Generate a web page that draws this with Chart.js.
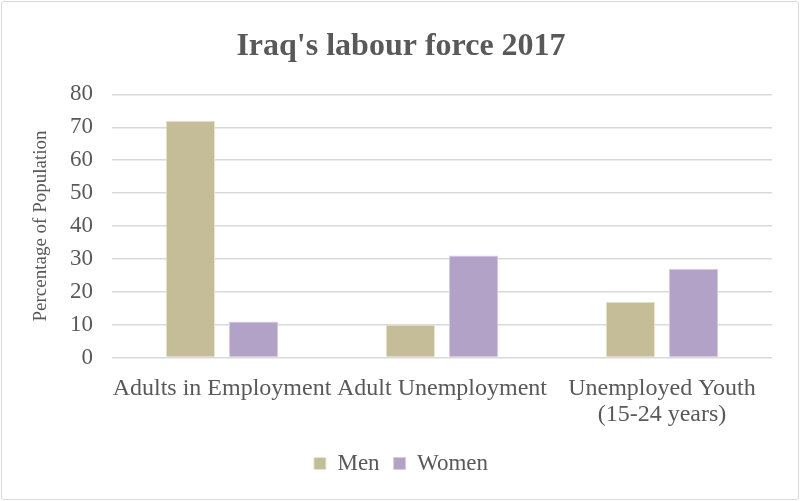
<!DOCTYPE html>
<html>
<head>
<meta charset="utf-8">
<script src="https://cdn.jsdelivr.net/npm/chart.js@4"></script>
<style>
  html, body { margin: 0; padding: 0; background: #fff; }
  #wrap { position: absolute; left: 1px; top: 1px; width: 796px; height: 497px; border: 1px solid #d9d9d9; border-radius: 3px; }
  canvas { display: block; }
</style>
</head>
<body>
<div id="wrap"><canvas id="js--labour_chart" width="796" height="497"></canvas></div>
<script>
var categories = ['Adults in Employment', 'Adult Unemployment', ['Unemployed Youth', '(15-24 years)']];
var men = [72, 10, 17];
var women = [11, 31, 27];
var yTicks = [0, 10, 20, 30, 40, 50, 60, 70, 80];

var cntxt = document.getElementById('js--labour_chart');
var serif = "'Liberation Serif', 'Times New Roman', serif";

var myChart = new Chart(cntxt, {
    type: 'bar',
    data: {
        labels: categories,
        datasets: [
            {
                label: 'Men',
                data: men,
                backgroundColor: '#C4BD97',
                borderColor: '#e8e4d0',
                borderWidth: 1
            },
            {
                label: 'Women',
                data: women,
                backgroundColor: '#B3A2C7',
                borderColor: '#d6cde3',
                borderWidth: 1
            }
        ]
    },
    options: {
        responsive: false,
        animation: false,
        devicePixelRatio: 1,
        layout: { padding: { left: 28, right: 26, top: 0, bottom: 14 } },
        categoryPercentage: 0.575,
        barPercentage: 0.78,
        plugins: {
            title: {
                display: true,
                text: "Iraq's labour force 2017",
                color: '#595959',
                font: { family: serif, size: 32, weight: 'bold' },
                padding: { top: 26, bottom: 28 }
            },
            legend: {
                position: 'bottom',
                labels: {
                    color: '#595959',
                    font: { family: serif, size: 23 },
                    boxWidth: 12,
                    boxHeight: 12,
                    padding: 14
                }
            },
            tooltip: { enabled: false }
        },
        scales: {
            x: {
                grid: { display: false },
                border: { display: false },
                ticks: {
                    color: '#595959',
                    font: { family: serif, size: 24, lineHeight: 1.05 },
                    maxRotation: 0,
                    autoSkip: false,
                    padding: 11
                }
            },
            y: {
                min: 0,
                max: 80,
                afterBuildTicks: function (axis) {
                    axis.ticks = yTicks.map(function (v) { return { value: v }; });
                },
                afterFit: function (axis) { axis.width = 82; },
                grid: { color: '#d9d9d9', lineWidth: 1.5, drawTicks: false },
                border: { display: false },
                ticks: {
                    color: '#595959',
                    font: { family: serif, size: 23 },
                    padding: 19
                },
                title: {
                    display: true,
                    text: 'Percentage of Population',
                    color: '#595959',
                    font: { family: serif, size: 19 },
                    padding: { top: 0, bottom: 0 }
                }
            }
        }
    }
});
</script>
</body>
</html>
